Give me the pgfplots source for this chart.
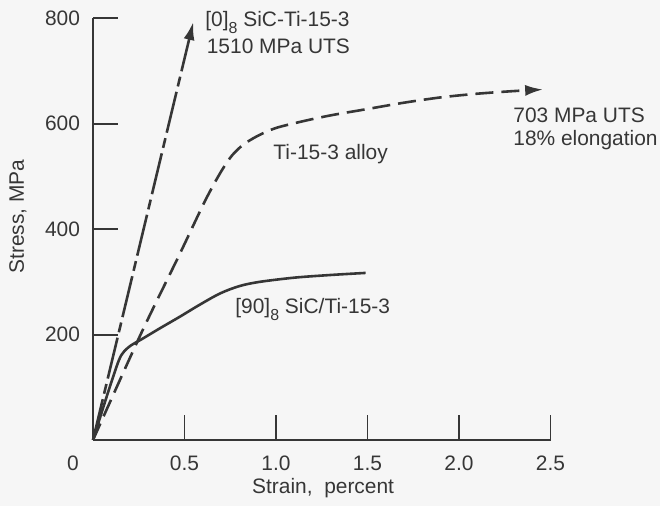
\documentclass[border=0pt]{standalone}
\usepackage{fontspec}
\setmainfont{Liberation Sans}
\usepackage{pgfplots}
\pgfplotsset{compat=1.18}
\usetikzlibrary{arrows.meta}
\definecolor{ink}{HTML}{363636}
\definecolor{paper}{HTML}{F6F6F6}

% lowered index after a bracketed ply angle, e.g. [0]_8
\newcommand{\plyidx}[1]{\lower3.5pt\hbox{\footnotesize #1}}

\begin{document}
\begin{tikzpicture}[font=\fontsize{10.5}{12.5}\selectfont, text=ink]
\fill[paper] (-46.5bp,-33bp) rectangle (283.5bp,220bp);
\path[use as bounding box] (-46.5bp,-33bp) rectangle (283.5bp,220bp);
\begin{axis}[
  anchor=origin, at={(0,0)},
  x=91.5bp, y=0.26355bp,
  xmin=0, xmax=2.5, ymin=0, ymax=800,
  axis lines=left,
  axis line style={-, line width=1pt, ink},
  tick align=inside,
  major tick length=12.5bp,
  tick style={line width=1pt, ink},
  xtick={0.5,1.0,1.5,2.0,2.5},
  ytick={200,400,600,800},
  /pgf/number format/assume math mode=true,
  xticklabel style={yshift=-4.5bp, /pgf/number format/.cd, fixed, fixed zerofill, precision=1},
  yticklabel style={xshift=-3bp},
  xlabel={Strain,\ \ percent},
  ylabel={Stress, MPa},
  xlabel style={at={(axis description cs:0.503,0)}, anchor=center, yshift=-24bp},
  ylabel style={at={(axis description cs:-0.164,0.53)}, anchor=center},
  clip=false,
]
% [0]8 SiC/Ti-15-3: long-short dashed line up to the arrow
\addplot[ink, line width=1.3pt, dash pattern=on 21bp off 2.8bp on 5bp off 2.8bp,
  -{Latex[length=9bp,width=5.5bp]}] coordinates {(0,0) (0.548,793)};
% Ti-15-3 alloy: dashed curve
\addplot[ink, line width=1.3pt, dash pattern=on 9bp off 4bp, smooth, tension=0.5,
  -{Latex[length=9bp,width=5.5bp]}] coordinates {
  (0,0) (0.26,200) (0.47,350) (0.6,445) (0.66,485) (0.71,515) (0.76,540)
  (0.82,560) (0.9,577) (1.0,592) (1.15,605) (1.3,616) (1.5,628) (1.7,640)
  (1.9,650) (2.1,657) (2.3,662) (2.46,665)};
% [90]8 SiC/Ti-15-3: solid curve
\addplot[ink, line width=1.3pt, smooth, tension=0.5] coordinates {
  (0,0) (0.08,88) (0.14,150) (0.17,168) (0.21,180) (0.26,190) (0.366,212)
  (0.475,234) (0.58,256) (0.694,278) (0.8,292) (0.91,300) (1.1,308)
  (1.295,313) (1.49,317)};

\node[anchor=base west, inner sep=0pt] at (axis cs:0.612,784) {[0]\plyidx{8} SiC-Ti-15-3};
\node[anchor=base west, inner sep=0pt] at (axis cs:0.62,734) {1510 MPa UTS};
\node[anchor=base west, inner sep=0pt] at (axis cs:0.984,533) {Ti-15-3 alloy};
\node[anchor=base west, inner sep=0pt] at (axis cs:2.295,603) {703 MPa UTS};
\node[anchor=base west, inner sep=0pt] at (axis cs:2.295,558) {18\% elongation};
\node[anchor=base west, inner sep=0pt] at (axis cs:0.776,240) {[90]\plyidx{8} SiC/Ti-15-3};
\node at (axis cs:0,0) [xshift=-10bp, yshift=-11.5bp] {0};
\end{axis}
\end{tikzpicture}
\end{document}
